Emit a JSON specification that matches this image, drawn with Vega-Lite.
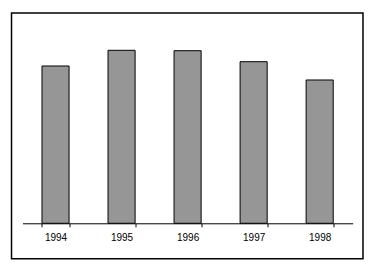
{
  "$schema": "https://vega.github.io/schema/vega-lite/v6.json",
  "autosize": {"type": "none"},
  "padding": {"left": 11.5, "top": 13, "right": 15, "bottom": 16},
  "width": 351.5,
  "height": 245.7,
  "background": "white",
  "config": {
    "view": {"stroke": "black", "strokeWidth": 1.5},
    "font": "Liberation Sans"
  },
  "data": {
    "values": [
      {"year": "1994", "value": 157.3},
      {"year": "1995", "value": 173.0},
      {"year": "1996", "value": 172.6},
      {"year": "1997", "value": 161.6},
      {"year": "1998", "value": 143.3}
    ]
  },
  "mark": {"type": "bar", "fill": "#969696", "stroke": "black", "strokeWidth": 1},
  "encoding": {
    "x": {
      "field": "year",
      "type": "nominal",
      "sort": null,
      "scale": {"range": [11, 341.2], "paddingInner": 0.59, "paddingOuter": 0.295},
      "axis": {
        "title": null,
        "labelAngle": 0,
        "offset": -35.4,
        "tickBand": "extent",
        "domainColor": "black",
        "tickColor": "black",
        "tickSize": 3.5,
        "labelFontSize": 10,
        "labelColor": "black",
        "labelPadding": 6,
        "grid": false
      }
    },
    "y": {
      "field": "value",
      "type": "quantitative",
      "scale": {"domain": [0, 200], "range": [210.3, 10.3]},
      "axis": null
    }
  }
}
